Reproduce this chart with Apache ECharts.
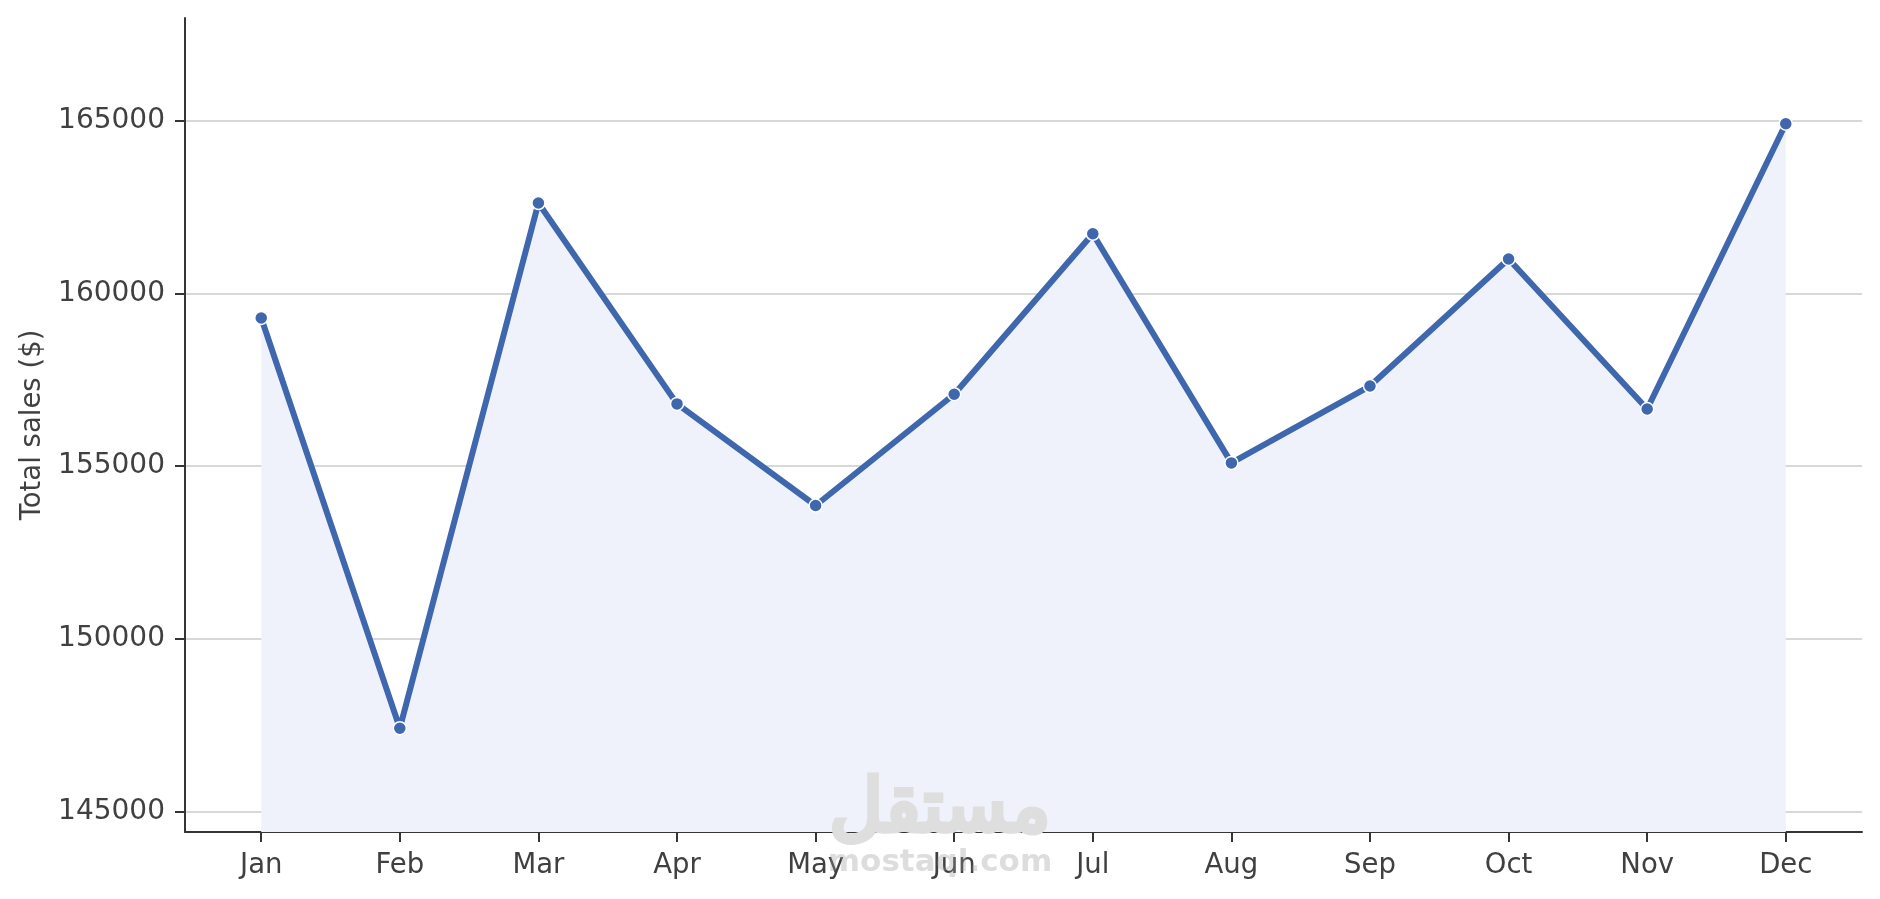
<!DOCTYPE html>
<html>
<head>
<meta charset="utf-8">
<script src="https://cdn.jsdelivr.net/npm/echarts@6/dist/echarts.min.js"></script>
<style>
html,body{margin:0;padding:0;background:#fff;}
#chart{width:1880px;height:899px;}
</style>
</head>
<body>
<div id="chart"></div>
<script>
const months = ['Jan','Feb','Mar','Apr','May','Jun','Jul','Aug','Sep','Oct','Nov','Dec'];
const sales = [159287, 147423, 162611, 156802, 153863, 157081, 161721, 155096, 157319, 160993, 156654, 164904];
const yTicks = [145000, 150000, 155000, 160000, 165000];
const yRange = [144421, 167962];
const xRange = [-0.55, 11.55];

const monthIdx = months.map((m, i) => i);
const points = sales.map((v, i) => [i, v]);

const textColor = '#404040';
const lineColor = '#353535';
const font = 'DejaVu Sans';

const chart = echarts.init(document.getElementById('chart'), null, {renderer: 'canvas'});
chart.setOption({
  backgroundColor: '#ffffff',
  animation: false,
  grid: {left: 185, right: 18, top: 18, bottom: 67, containLabel: false},
  xAxis: {
    type: 'value',
    min: xRange[0],
    max: xRange[1],
    axisLine: {show: true, onZero: false, lineStyle: {color: lineColor, width: 2}},
    axisTick: {show: true, length: 10, lineStyle: {color: lineColor, width: 2}, customValues: monthIdx},
    axisLabel: {
      customValues: monthIdx,
      formatter: v => months[Math.round(v)] || '',
      color: textColor, fontFamily: font, fontSize: 27.5, margin: 20
    },
    splitLine: {show: false}
  },
  yAxis: {
    type: 'value',
    min: yRange[0],
    max: yRange[1],
    name: 'Total sales ($)',
    nameLocation: 'middle',
    nameRotate: 90,
    nameGap: 138,
    nameTextStyle: {color: textColor, fontFamily: font, fontSize: 27.5},
    axisLine: {show: true, onZero: false, lineStyle: {color: lineColor, width: 2}},
    axisTick: {show: true, length: 10, lineStyle: {color: lineColor, width: 2}, customValues: yTicks},
    axisLabel: {customValues: yTicks, formatter: v => String(v), color: textColor, fontFamily: font, fontSize: 28, margin: 20},
    splitLine: {show: true, lineStyle: {color: '#cbcbcb', width: 1.6}}
  },
  series: [{
    type: 'line',
    data: points,
    symbol: 'circle',
    symbolSize: 13,
    lineStyle: {color: '#3e67ad', width: 6},
    itemStyle: {color: '#3e67ad', borderColor: '#ffffff', borderWidth: 1.5},
    areaStyle: {color: '#eff2fa', opacity: 1, origin: 'start'},
    z: 3
  }],
  graphic: [
    {type: 'text', z: 100, style: {text: 'مستقل', x: 940, y: 812, textAlign: 'center', textVerticalAlign: 'middle', fontFamily: font, fontWeight: 'normal', fontSize: 74, fill: '#dedede', stroke: '#dedede', lineWidth: 5, lineJoin: 'round'}},
    {type: 'text', z: 100, style: {text: 'mostaql.com', x: 940, y: 863, textAlign: 'center', textVerticalAlign: 'middle', fontFamily: font, fontWeight: 'bold', fontSize: 31, fill: 'rgba(150,150,150,0.32)'}}
  ]
});
</script>
</body>
</html>
